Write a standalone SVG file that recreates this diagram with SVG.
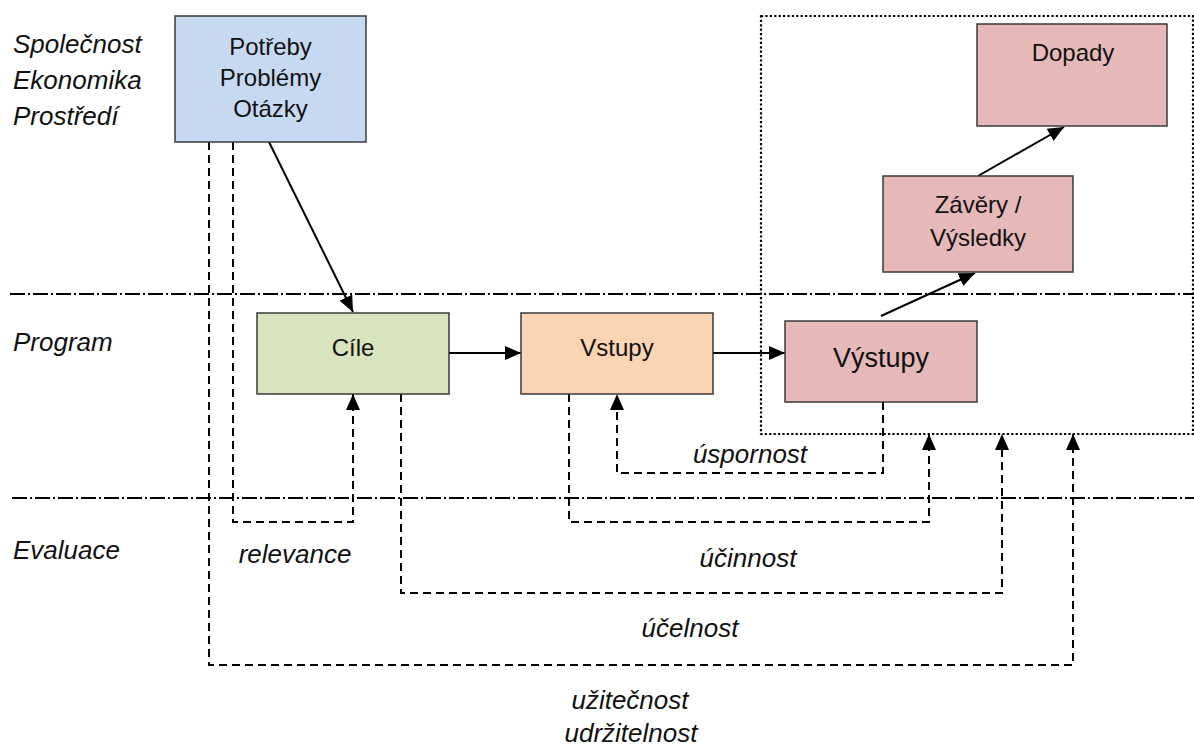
<svg xmlns="http://www.w3.org/2000/svg" width="1194" height="749" viewBox="0 0 1194 749">
<style>
.box{stroke:#3a3a3a;stroke-width:1.5}
.t{font-family:"Liberation Sans",Arial,sans-serif;font-size:24px;fill:#111;text-anchor:middle}
.lbl{font-family:"Liberation Sans",Arial,sans-serif;font-size:26px;font-style:italic;fill:#111}
.mid{text-anchor:middle}
.solid{fill:none;stroke:#000;stroke-width:2}
.dash{fill:none;stroke:#000;stroke-width:2;stroke-dasharray:8,5}
.dashdot{fill:none;stroke:#000;stroke-width:2;stroke-dasharray:15,3,2,3}
.dot{fill:none;stroke:#000;stroke-width:2.2;stroke-dasharray:2.2,2.2}
</style>
<defs>
<marker id="ah" viewBox="0 0 16 16" refX="16" refY="8" markerWidth="16" markerHeight="16" markerUnits="userSpaceOnUse" orient="auto">
<path d="M0,1 L16,8 L0,15 z" fill="#000"/>
</marker>
</defs>
<rect width="1194" height="749" fill="#fff"/>
<g id="swimlanes">
<line class="dashdot" x1="10" y1="294" x2="1194" y2="294"/>
<line class="dashdot" x1="12" y1="498" x2="1194" y2="498"/>
<rect class="dot" x="761" y="16" width="432" height="418"/>
</g>
<g id="lane-labels">
<text class="lbl" x="13" y="53">Společnost</text>
<text class="lbl" x="13" y="89">Ekonomika</text>
<text class="lbl" x="13" y="125">Prostředí</text>
<text class="lbl" x="13" y="351">Program</text>
<text class="lbl" x="13" y="559">Evaluace</text>
</g>
<g id="connectors">
<path class="solid" d="M269,142 L353,312" marker-end="url(#ah)"/>
<path class="solid" d="M449,353 H521" marker-end="url(#ah)"/>
<path class="solid" d="M713,353 H785" marker-end="url(#ah)"/>
<path class="solid" d="M881,316 L975,273" marker-end="url(#ah)"/>
<path class="solid" d="M978,176 L1064,127" marker-end="url(#ah)"/>
<path class="dash" d="M233,142 V522 H353 V394" marker-end="url(#ah)"/>
<path class="dash" d="M883,402 V473 H617 V394" marker-end="url(#ah)"/>
<path class="dash" d="M569,394 V522 H929 V434" marker-end="url(#ah)"/>
<path class="dash" d="M401,394 V593 H1002 V434" marker-end="url(#ah)"/>
<path class="dash" d="M209,142 V665 H1073 V434" marker-end="url(#ah)"/>
</g>
<g id="connector-labels">
<text class="lbl mid" x="750" y="463">úspornost</text>
<text class="lbl mid" x="295" y="563">relevance</text>
<text class="lbl mid" x="748" y="567">účinnost</text>
<text class="lbl mid" x="690" y="637">účelnost</text>
<text class="lbl mid" x="630" y="709">užitečnost</text>
<text class="lbl mid" x="631" y="742">udržitelnost</text>
</g>
<g id="node-potreby">
<rect class="box" x="175" y="16" width="191" height="126" fill="#c6d9f1"/>
<text class="t" x="270.5" y="55">Potřeby</text>
<text class="t" x="270.5" y="86">Problémy</text>
<text class="t" x="270.5" y="117">Otázky</text>
</g>
<g id="node-cile">
<rect class="box" x="257" y="313" width="192" height="81" fill="#d7e4bd"/>
<text class="t" x="353" y="356">Cíle</text>
</g>
<g id="node-vstupy">
<rect class="box" x="521" y="313" width="192" height="81" fill="#fbd4b4"/>
<text class="t" x="617" y="356">Vstupy</text>
</g>
<g id="node-vystupy">
<rect class="box" x="785" y="321" width="192" height="81" fill="#e6b9b8"/>
<text class="t" x="881" y="367" style="font-size:27px">Výstupy</text>
</g>
<g id="node-zavery">
<rect class="box" x="883" y="176" width="190" height="96" fill="#e6b9b8"/>
<text class="t" x="978" y="213">Závěry /</text>
<text class="t" x="978" y="246">Výsledky</text>
</g>
<g id="node-dopady">
<rect class="box" x="977" y="24" width="190" height="102" fill="#e6b9b8"/>
<text class="t" x="1073" y="61">Dopady</text>
</g>
</svg>
